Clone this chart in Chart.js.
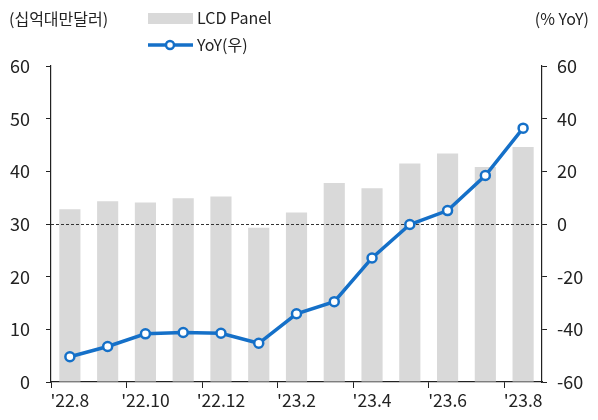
<!DOCTYPE html>
<html>
<head>
<meta charset="utf-8">
<script src="https://cdn.jsdelivr.net/npm/chart.js@4.4.1/dist/chart.umd.min.js"></script>
<style>
  html, body { margin: 0; padding: 0; background: #fff; }
  #wrap { width: 598px; height: 420px; position: relative; }
</style>
</head>
<body>
<div id="wrap"><canvas id="grafico"></canvas></div>
<script>
const meses = ["'22.8", "'22.9", "'22.10", "'22.11", "'22.12", "'23.1", "'23.2",
  "'23.3", "'23.4", "'23.5", "'23.6", "'23.7", "'23.8"];
// 매출 (십억대만달러)
const lcdPanel = [32.8, 34.3, 34.1, 34.9, 35.2, 29.3, 32.2, 37.8, 36.8, 41.5, 43.4, 40.8, 44.6];
// 전년동기대비 (%)
const yoy = [-50.4, -46.5, -41.7, -41.2, -41.5, -45.3, -34.1, -29.5, -12.9, -0.2, 5.1, 18.4, 36.4];
const ticksIzq = [0, 10, 20, 30, 40, 50, 60];
const ticksDer = [-60, -40, -20, 0, 20, 40, 60];

const FUENTE = "'Noto Sans CJK KR', 'Noto Sans', sans-serif";
const AZUL = "#1570c8";
const GRIS = "#d9d9d9";

// leyenda, unidades y linea punteada en 0
const extras = {
  id: "extras",
  afterDatasetDraw(chart, args) {
    if (args.meta.type !== "bar") return;
    const { ctx, chartArea } = chart;
    const y = chart.scales.y1.getPixelForValue(0);
    ctx.save();
    ctx.strokeStyle = "#333";
    ctx.lineWidth = 1;
    ctx.setLineDash([3, 2]);
    ctx.beginPath();
    ctx.moveTo(chartArea.left, y + 0.5);
    ctx.lineTo(chartArea.right, y + 0.5);
    ctx.stroke();
    ctx.restore();
  },
  afterDraw(chart) {
    const ctx = chart.ctx;
    ctx.save();
    ctx.font = "16px " + FUENTE;
    ctx.fillStyle = "#222";
    ctx.textBaseline = "middle";
    ctx.textAlign = "left";
    ctx.fillText("(십억대만달러)", 9, 19);
    ctx.textAlign = "right";
    ctx.fillText("(% YoY)", 589, 19);

    // leyenda
    ctx.fillStyle = GRIS;
    ctx.fillRect(148, 13, 45, 11);
    ctx.strokeStyle = AZUL;
    ctx.lineWidth = 3.5;
    ctx.beginPath();
    ctx.moveTo(148, 45);
    ctx.lineTo(193, 45);
    ctx.stroke();
    ctx.beginPath();
    ctx.arc(170, 45, 4, 0, Math.PI * 2);
    ctx.fillStyle = "#fff";
    ctx.fill();
    ctx.lineWidth = 2.5;
    ctx.stroke();

    ctx.fillStyle = "#222";
    ctx.textAlign = "left";
    ctx.fillText("LCD Panel", 197, 18);
    ctx.fillText("YoY(우)", 197, 45);
    ctx.restore();
  }
};

new Chart(document.getElementById("grafico"), {
  type: "bar",
  data: {
    labels: meses,
    datasets: [
      {
        type: "line",
        label: "YoY(우)",
        data: yoy,
        yAxisID: "y1",
        borderColor: AZUL,
        borderWidth: 3.5,
        pointRadius: 4.5,
        pointBorderWidth: 2.5,
        pointBackgroundColor: "#fff",
        pointBorderColor: AZUL,
        tension: 0,
        order: 0
      },
      {
        label: "LCD Panel",
        data: lcdPanel,
        yAxisID: "y",
        backgroundColor: GRIS,
        barPercentage: 0.56,
        categoryPercentage: 1,
        order: 1
      }
    ]
  },
  options: {
    responsive: true,
    maintainAspectRatio: false,
    animation: false,
    layout: { padding: { top: 66, left: 4, right: 11, bottom: 7 } },
    plugins: { legend: { display: false }, tooltip: { enabled: false } },
    scales: {
      x: {
        offset: true,
        border: { color: "#222", width: 1.2 },
        grid: {
          offset: true,
          drawOnChartArea: false,
          tickLength: 6,
          color: (c) => (c.index % 2 === 0 ? "#222" : "transparent")
        },
        ticks: {
          autoSkip: false,
          maxRotation: 0,
          color: "#222",
          padding: 2,
          font: { family: FUENTE, size: 17.5 },
          callback: (v, i) => (i % 2 === 0 ? meses[i] : "")
        }
      },
      y: {
        position: "left",
        min: 0,
        max: 60,
        afterBuildTicks: (s) => { s.ticks = ticksIzq.map(v => ({ value: v })); },
        afterFit: (s) => { s.width = 47; },
        border: { color: "#222", width: 1.2 },
        grid: { drawOnChartArea: false, tickLength: 5, color: "#222" },
        ticks: { color: "#222", padding: 16, font: { family: FUENTE, size: 18 } }
      },
      y1: {
        position: "right",
        min: -60,
        max: 60,
        afterBuildTicks: (s) => { s.ticks = ticksDer.map(v => ({ value: v })); },
        afterFit: (s) => { s.width = 45; },
        border: { color: "#222", width: 1.2 },
        grid: { drawOnChartArea: false, tickLength: 5, color: "#222" },
        ticks: { color: "#222", padding: 10, font: { family: FUENTE, size: 18 } }
      }
    }
  },
  plugins: [extras]
});
</script>
</body>
</html>
